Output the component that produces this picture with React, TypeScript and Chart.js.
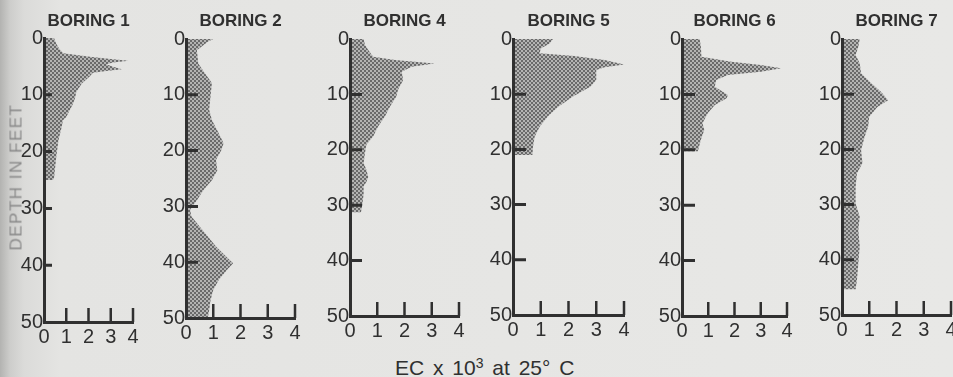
import React, { useEffect, useRef } from "react";
import { Chart, registerables } from "chart.js";

Chart.register(...registerables);

// ---------- data ----------
const BORING_TITLES = ["BORING 1", "BORING 2", "BORING 4", "BORING 5", "BORING 6", "BORING 7"];
const EC_TICKS = [0, 1, 2, 3, 4];
const DEPTH_TICKS = [0, 10, 20, 30, 40, 50];

const boring1Depth = [0, 1, 2, 2.7, 3.3, 3.76, 4.0, 4.3, 4.6, 5.06, 5.5, 5.8, 6.1, 6.8, 8, 9.5, 10.5, 11.6, 13.9, 14.5, 15.6, 18, 21, 24.7, 25];
const boring1EC = [0.45, 0.55, 0.7, 0.87, 2.06, 3.1, 3.8, 3.1, 2.8, 3.1, 3.5, 2.8, 2.2, 2.05, 1.7, 1.45, 1.4, 1.3, 1.0, 0.85, 0.8, 0.65, 0.55, 0.45, 0.4];

const boring2Depth = [0, 0.5, 2, 4.4, 6.2, 7.9, 10.3, 12.7, 14.5, 16.9, 18.7, 19.9, 21.7, 23.5, 25.3, 27, 28.9, 30.6, 31.8, 33.6, 35.4, 37.2, 39.6, 40.2, 41.4, 43.2, 45, 46.8, 48.6, 50];
const boring2EC = [1.0, 0.8, 0.4, 0.45, 0.7, 0.95, 0.9, 0.85, 0.95, 1.2, 1.38, 1.3, 1.1, 1.15, 0.95, 0.65, 0.4, 0.15, 0.2, 0.5, 0.8, 1.1, 1.6, 1.73, 1.5, 1.2, 1.0, 0.9, 0.85, 0.8];

const boring4Depth = [0, 1.1, 2, 3.2, 3.8, 4.4, 5, 5.9, 7.4, 9.2, 10.4, 12.2, 14, 15.8, 17.6, 19.1, 20.6, 22.4, 23.6, 24.9, 25.8, 26.6, 28, 30, 31.3];
const boring4EC = [0.5, 0.55, 0.67, 0.85, 1.65, 3.1, 2.26, 1.9, 1.95, 1.76, 1.7, 1.47, 1.28, 1.03, 0.85, 0.6, 0.55, 0.5, 0.6, 0.67, 0.6, 0.5, 0.5, 0.45, 0.4];

const boring5Depth = [0, 0.8, 1.7, 2.6, 3.1, 3.8, 4.6, 5.1, 5.6, 7.4, 8.6, 10.4, 12.3, 14, 15.9, 17.7, 19.5, 21];
const boring5EC = [1.44, 1.32, 1.0, 0.96, 2.2, 3.3, 4.0, 3.3, 3.0, 3.0, 2.8, 2.16, 1.62, 1.26, 0.96, 0.78, 0.72, 0.7];

const boring6Depth = [0, 1.4, 3.2, 4.1, 4.7, 5.3, 5.9, 6.5, 7.4, 8.6, 10.1, 10.7, 11.9, 13.4, 15.2, 16.4, 18.2, 20.3];
const boring6EC = [0.67, 0.72, 0.74, 1.88, 3.0, 3.78, 3.0, 1.75, 1.3, 1.25, 1.75, 1.7, 1.25, 0.98, 0.78, 0.85, 0.72, 0.6];

const boring7Depth = [0, 1.4, 2.9, 4.4, 6.2, 8, 9.6, 11.1, 12.3, 14.1, 15.9, 17.7, 20.1, 22.5, 24.3, 26.8, 29.8, 32.2, 34.6, 37.6, 40.6, 43.6, 45.4];
const boring7EC = [0.65, 0.6, 0.5, 0.65, 0.7, 1.08, 1.44, 1.69, 1.3, 1.0, 0.96, 0.83, 0.7, 0.75, 0.55, 0.5, 0.5, 0.65, 0.6, 0.65, 0.6, 0.55, 0.5];

const SERIES = [
  { depth: boring1Depth, ec: boring1EC },
  { depth: boring2Depth, ec: boring2EC },
  { depth: boring4Depth, ec: boring4EC },
  { depth: boring5Depth, ec: boring5EC },
  { depth: boring6Depth, ec: boring6EC },
  { depth: boring7Depth, ec: boring7EC },
];

// ---------- layout ----------
const PANELS = [
  { axisX: 44, plotRight: 133, plotTop: 38, plotBottom: 322, yTick: 8 },
  { axisX: 186, plotRight: 295, plotTop: 39, plotBottom: 318, yTick: 12 },
  { axisX: 350, plotRight: 459, plotTop: 39, plotBottom: 316, yTick: 12 },
  { axisX: 513, plotRight: 624, plotTop: 39, plotBottom: 315, yTick: 13 },
  { axisX: 682, plotRight: 787, plotTop: 39, plotBottom: 316, yTick: 13 },
  { axisX: 842, plotRight: 951, plotTop: 39, plotBottom: 315, yTick: 12 },
];
const Y_AXIS_W = 40;
const X_AXIS_H = 30;
const RIGHT_PAD = 9;
const INK = "#303030";
const FONT = "'Liberation Sans', Arial, sans-serif";
const TITLE_SIZE = 17;
const TITLE_PAD_TOP = 11;
const TICK_SIZE = 20;

function makePattern(ctx: CanvasRenderingContext2D) {
  const c = document.createElement("canvas");
  c.width = 4;
  c.height = 4;
  const g = c.getContext("2d")!;
  g.fillStyle = "#b4b4b3";
  g.fillRect(0, 0, 4, 4);
  g.fillStyle = "#6a6a6a";
  g.fillRect(0, 0, 2, 2);
  g.fillRect(2, 2, 2, 2);
  return ctx.createPattern(c, "repeat") || "#8c8c8c";
}

function Panel({ index }: { index: number }) {
  const ref = useRef<HTMLCanvasElement | null>(null);
  const p = PANELS[index];
  const width = Y_AXIS_W + (p.plotRight - p.axisX) + RIGHT_PAD;
  const height = p.plotBottom + X_AXIS_H;

  useEffect(() => {
    const canvas = ref.current;
    if (!canvas) return;
    const ctx = canvas.getContext("2d")!;
    const s = SERIES[index];
    const points = s.depth.map((d, i) => ({ x: s.ec[i], y: d }));
    const titleLine = TITLE_SIZE * 1.2;

    const tickMarks = {
      id: "tickMarks",
      afterDatasetsDraw(chart: any) {
        const { ctx: c, chartArea, scales } = chart;
        c.save();
        c.strokeStyle = INK;
        c.lineCap = "butt";
        c.lineWidth = 3;
        c.beginPath();
        DEPTH_TICKS.forEach((v) => {
          if (v <= 0 || v >= 50) return;
          const y = scales.y.getPixelForValue(v);
          c.moveTo(chartArea.left, y);
          c.lineTo(chartArea.left + p.yTick, y);
        });
        c.stroke();
        c.lineWidth = 2.5;
        c.beginPath();
        EC_TICKS.forEach((v) => {
          if (v <= 0) return;
          const x = scales.x.getPixelForValue(v);
          c.moveTo(x, chartArea.bottom);
          c.lineTo(x, chartArea.bottom - 14);
        });
        c.stroke();
        c.restore();
      },
    };

    const chart = new Chart(canvas, {
      type: "line",
      data: {
        datasets: [
          {
            data: points,
            fill: "origin",
            backgroundColor: makePattern(ctx) as any,
            borderColor: "rgba(0,0,0,0)",
            borderWidth: 0,
            pointRadius: 0,
            tension: 0,
          },
        ],
      },
      options: {
        indexAxis: "y",
        animation: false,
        responsive: false,
        events: [],
        layout: { padding: { left: 0, right: RIGHT_PAD, top: 0, bottom: 0 } },
        plugins: {
          legend: { display: false },
          tooltip: { enabled: false },
          title: {
            display: true,
            text: BORING_TITLES[index],
            fullSize: false,
            color: INK,
            font: { family: FONT, size: TITLE_SIZE, weight: "bold" },
            padding: { top: TITLE_PAD_TOP, bottom: p.plotTop - TITLE_PAD_TOP - titleLine },
          },
        },
        scales: {
          x: {
            type: "linear",
            position: "bottom",
            min: 0,
            max: 4,
            grid: { display: false, drawTicks: false, tickLength: 0 },
            border: { display: true, color: INK, width: 3, z: 1 },
            ticks: { color: INK, font: { family: FONT, size: TICK_SIZE }, padding: 3, maxRotation: 0, autoSkip: false },
            afterBuildTicks: (sc: any) => {
              sc.ticks = EC_TICKS.map((v) => ({ value: v }));
            },
            afterFit: (sc: any) => {
              sc.height = X_AXIS_H;
            },
          },
          y: {
            type: "linear",
            position: "left",
            min: 0,
            max: 50,
            reverse: true,
            grid: { display: false, drawTicks: false, tickLength: 0 },
            border: { display: true, color: INK, width: 3, z: 1 },
            ticks: { color: INK, font: { family: FONT, size: TICK_SIZE }, padding: 1, autoSkip: false },
            afterBuildTicks: (sc: any) => {
              sc.ticks = DEPTH_TICKS.map((v) => ({ value: v }));
            },
            afterFit: (sc: any) => {
              sc.width = Y_AXIS_W;
            },
          },
        },
      } as any,
      plugins: [tickMarks],
    });
    return () => chart.destroy();
  }, [index]);

  return (
    <div style={{ position: "absolute", left: p.axisX - Y_AXIS_W, top: 0, width, height }}>
      <canvas ref={ref} width={width} height={height} style={{ width, height, display: "block" }} />
    </div>
  );
}

export default function App() {
  return (
    <div
      style={{
        position: "absolute",
        left: 0,
        top: 0,
        width: 953,
        height: 377,
        overflow: "hidden",
        background: "linear-gradient(to right, #b3b3b1 0px, #cdcdcb 10px, #dbdbd9 24px, #e4e4e2 60px, #e8e8e6 100%)",
        fontFamily: FONT,
      }}
    >
      {PANELS.map((_, i) => (
        <Panel key={i} index={i} />
      ))}
      <div
        style={{
          position: "absolute",
          left: 16,
          top: 177,
          transform: "translate(-50%, -50%) rotate(-90deg)",
          whiteSpace: "nowrap",
          fontSize: 17,
          lineHeight: 1,
          letterSpacing: 1.5,
          color: "#8a8a8a",
        }}
      >
        DEPTH IN FEET
      </div>
      <div
        style={{
          position: "absolute",
          left: 395,
          top: 357,
          whiteSpace: "nowrap",
          fontSize: 21,
          lineHeight: 1,
          wordSpacing: 3,
          color: INK,
        }}
      >
        EC x 10<sup style={{ fontSize: 14, lineHeight: 0, verticalAlign: "7px" }}>3</sup> at 25° C
      </div>
    </div>
  );
}
